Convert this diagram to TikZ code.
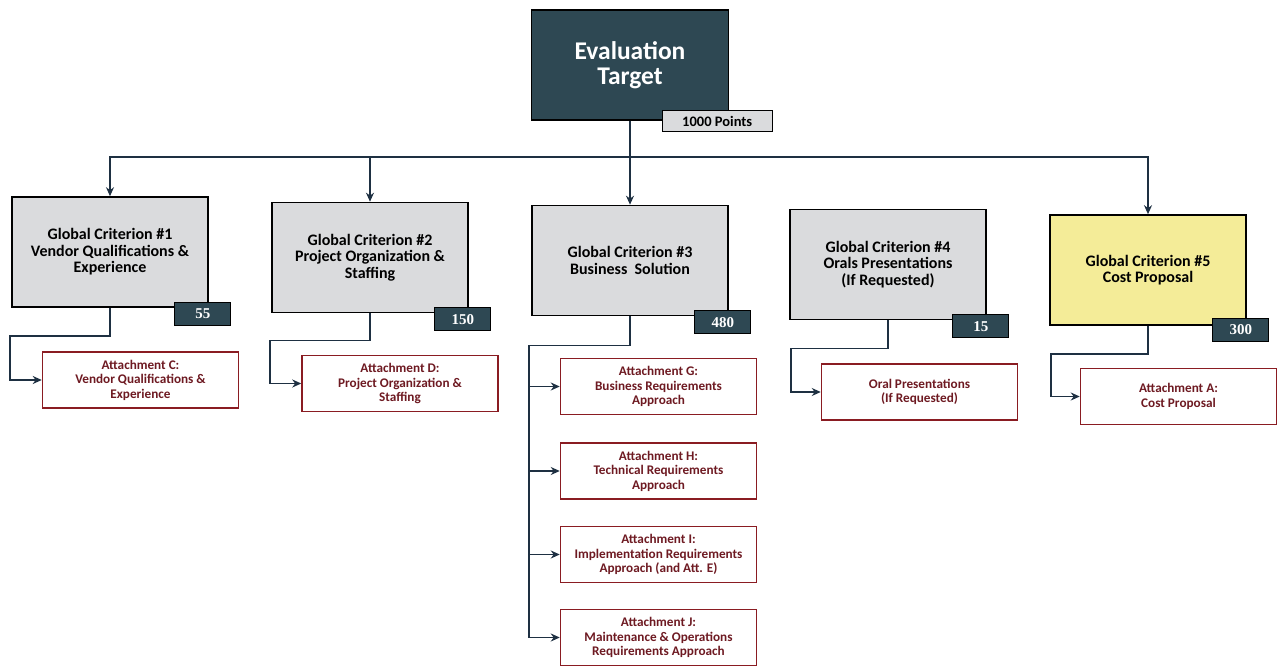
\documentclass[tikz,border=0pt]{standalone}
\usepackage{fontspec}
\setmainfont{Carlito}
\newfontfamily\tagfont{Liberation Serif}
\usetikzlibrary{arrows.meta,calc}
\definecolor{teal}{HTML}{2E4853}
\definecolor{critgray}{HTML}{DADBDD}
\definecolor{crityellow}{HTML}{F4EC98}
\definecolor{attred}{HTML}{8A1C22}
\definecolor{atttext}{HTML}{6E1A22}
\definecolor{linecol}{HTML}{1E3042}
\begin{document}
\begin{tikzpicture}[x=1pt,y=-1pt,
  topbox/.style={draw=black,line width=1.4pt,fill=teal,text=white,minimum width=197pt,minimum height=110pt,align=center,font=\fontsize{25.5}{25}\selectfont\bfseries},
  toptag/.style={draw=black,line width=1.4pt,fill=critgray,minimum width=110pt,minimum height=21pt,inner sep=0pt,font=\fontsize{14.5}{16}\selectfont\bfseries},
  critbox/.style={draw=black,line width=1.6pt,fill=critgray,minimum width=196pt,minimum height=110pt,align=center,font=\fontsize{16}{16.5}\selectfont\bfseries},
  scoretag/.style={draw=black,line width=1pt,fill=teal,text=white,minimum width=56pt,minimum height=23pt,inner sep=0pt,font=\tagfont\fontsize{15}{16}\selectfont\bfseries},
  attbox/.style={draw=attred,line width=1.5pt,fill=white,text=atttext,minimum width=196pt,minimum height=56pt,align=center,font=\fontsize{13.2}{14.5}\selectfont\bfseries},
  link/.style={draw=linecol,line width=1.6pt},
  arr/.style={link,-{Stealth[length=9pt,width=8pt]}}]
\useasboundingbox (0,0) rectangle (1281,668);

% top
\node[topbox] (top) at (630,65) {Evaluation\\Target};
\node[toptag] (toptag) at ($(top.south east)+(-12,0.5)$) {1000 Points};

% criteria
\node[critbox] (c1) at (110,252) {Global Criterion \#1\\Vendor Qualifications \&\\Experience};
\node[critbox] (c2) at (370,257.5) {Global Criterion \#2\\Project Organization \&\\Staffing};
\node[critbox] (c3) at (630,260.5) {Global Criterion \#3\\Business\ \ Solution};
\node[critbox] (c4) at (888,264.5) {Global Criterion \#4\\Orals Presentations\\(If Requested)};
\node[critbox,fill=crityellow] (c5) at (1148,270) {Global Criterion \#5\\Cost Proposal};

\node[scoretag] (s1) at ($(c1.south east)+(-6,6)$) {55};
\node[scoretag] (s2) at ($(c2.south east)+(-6,6)$) {150};
\node[scoretag] (s3) at ($(c3.south east)+(-6,6)$) {480};
\node[scoretag] (s4) at ($(c4.south east)+(-6,6)$) {15};
\node[scoretag] (s5) at ($(c5.south east)+(-6,4)$) {300};

% attachments
\node[attbox] (aC) at (140.5,380) {Attachment C:\\Vendor Qualifications \&\\Experience};
\node[attbox] (aD) at (400,383.5) {Attachment D:\\Project Organization \&\\Staffing};
\node[attbox] (aG) at (658.5,386.5) {Attachment G:\\Business Requirements\\Approach};
\node[attbox] (aH) at (658.5,471) {Attachment H:\\Technical Requirements\\Approach};
\node[attbox] (aI) at (658.5,554.5) {Attachment I:\\Implementation Requirements\\Approach (and Att. E)};
\node[attbox] (aJ) at (658.5,637.5) {Attachment J:\\Maintenance \& Operations\\Requirements Approach};
\node[attbox] (aO) at (919.5,392) {Oral Presentations\\(If Requested)};
\node[attbox] (aA) at (1178.5,396.5) {Attachment A:\\Cost Proposal};

% top connectors
\coordinate (bus) at (630,157);
\draw[arr] (top.south) -- (c3.north);
\draw[arr] (bus) -| (c1.north);
\draw[arr] (bus) -| (c2.north);
\draw[arr] (bus) -| (c5.north);

% sub connectors
\draw[arr] (c1.south) -- ++(0,28) -- ++(-100,0) |- (aC.west);
\draw[arr] (c2.south) -- ++(0,27) -- ++(-100,0) |- (aD.west);
\draw[arr] (c4.south) -- ++(0,28) -- ++(-97,0) |- (aO.west);
\draw[arr] (c5.south) -- ++(0,28) -- ++(-97,0) |- (aA.west);

\draw[link] (c3.south) -- ++(0,29) -- ++(-101,0) coordinate (k3) -- (k3 |- aJ.west);
\draw[arr] (k3 |- aG.west) -- (aG.west);
\draw[arr] (k3 |- aH.west) -- (aH.west);
\draw[arr] (k3 |- aI.west) -- (aI.west);
\draw[arr] (k3 |- aJ.west) -- (aJ.west);
\end{tikzpicture}
\end{document}
